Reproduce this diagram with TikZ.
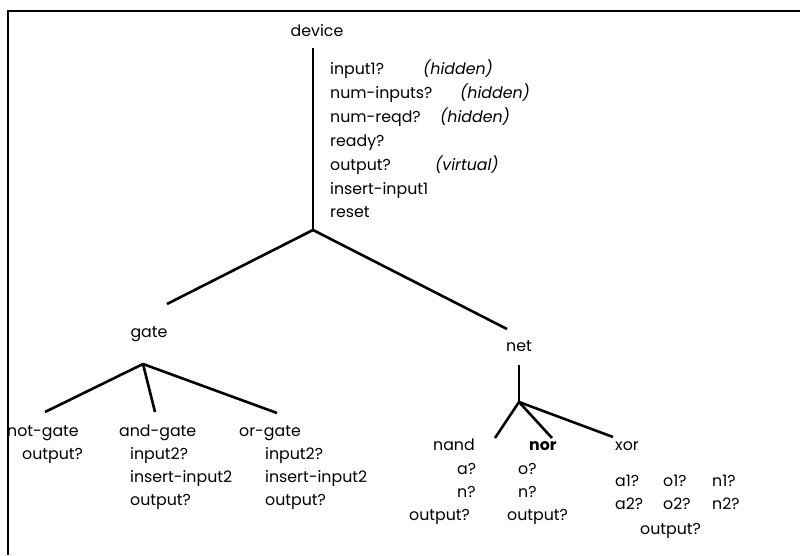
\documentclass[tikz,border=0pt]{standalone}
\usepackage{fontspec}
\setmainfont{Poppins}
\tikzset{
  branch/.style={line width=2.6pt},
  lbl/.style={inner sep=0pt, text height=11pt, text depth=3pt, font=\fontsize{15.8}{18}\selectfont},
  item/.style={lbl, anchor=west},
  note/.style={item, font=\fontsize{15.8}{18}\selectfont\itshape},
}
\begin{document}
\begin{tikzpicture}[x=1pt, y=-1pt]
      \useasboundingbox (0,0) rectangle (800,555);
      \draw[line width=2.4pt] (8,555) -- (8,11) -- (800,11);

      % root class and its methods
      \node[lbl] (dev) at (317,32){device};
      \node[item] (dev1) at (330,70){input1?};
      \node[item] (dev2) at (330,94){num-inputs?};
      \node[item] (dev3) at (330,118){num-reqd?};
      \node[item] (dev4) at (330,142){ready?};
      \node[item] (dev5) at (330,166){output?};
      \node[item] (dev6) at (330,190){insert-input1};
      \node[item] (dev7) at (330,213){reset};
      \node[note] (hid1) at (423,70){(hidden)};
      \node[note] (hid2) at (460,94){(hidden)};
      \node[note] (hid3) at (440,118){(hidden)};
      \node[note] (virt) at (435,166){(virtual)};
      \coordinate (devtop) at (313,48);
      \coordinate (devfork) at (313,230);

      \node[lbl] (gate) at (149,333){gate};
      \node[lbl] (net) at (519,347){net};
      \coordinate (gatetop) at (167,304);
      \coordinate (nettop) at (507,329);
      \draw[branch](devtop) -- (devfork);
      \draw[branch](devfork) -- (gatetop);
      \draw[branch](devfork) -- (nettop);

      % gates
      \coordinate (gatefork) at (143,364);
      \coordinate (notend) at (45,412);
      \coordinate (andend) at (155,412);
      \coordinate (orend) at (277,413);
      \draw[branch](gatefork) -- (notend);
      \draw[branch](gatefork) -- (andend);
      \draw[branch](gatefork) -- (orend);
      \node[item] (notg) at (7,432){not-gate};
      \node[item] (notg1) at (22,455){output?};
      \node[item] (andg) at (119,432){and-gate};
      \node[item] (andg1) at (130,455){input2?};
      \node[item] (andg2) at (130,478){insert-input2};
      \node[item] (andg3) at (130,501){output?};
      \node[item] (org) at (239,432){or-gate};
      \node[item] (org1) at (265,455){input2?};
      \node[item] (org2) at (265,478){insert-input2};
      \node[item] (org3) at (265,501){output?};

      % nets
      \coordinate (nettail) at (519,365);
      \coordinate (netfork) at (519,402);
      \coordinate (nandend) at (495,438);
      \coordinate (norend) at (552,438);
      \coordinate (xorend) at (613,437);
      \draw[branch](nettail) -- (netfork);
      \draw[branch](netfork) -- (nandend);
      \draw[branch](netfork) -- (norend);
      \draw[branch](netfork) -- (xorend);
      \node[item] (nand) at (433,446){nand};
      \node[item] (nand1) at (457,470){a?};
      \node[item] (nand2) at (457,493){n?};
      \node[item] (nand3) at (409,516){output?};
      \node[item, font=\fontsize{15.8}{18}\selectfont\bfseries] (nor) at (529,446){nor};
      \node[item] (nor1) at (518,470){o?};
      \node[item] (nor2) at (518,493){n?};
      \node[item] (nor3) at (507,516){output?};
      \node[item] (xor) at (615,446){xor};
      \node[item] (xora1) at (615,482){a1?};
      \node[item] (xoro1) at (663,482){o1?};
      \node[item] (xorn1) at (712,482){n1?};
      \node[item] (xora2) at (615,505){a2?};
      \node[item] (xoro2) at (663,505){o2?};
      \node[item] (xorn2) at (712,505){n2?};
      \node[item] (xor3) at (640,530){output?};

    \end{tikzpicture}
\end{document}
